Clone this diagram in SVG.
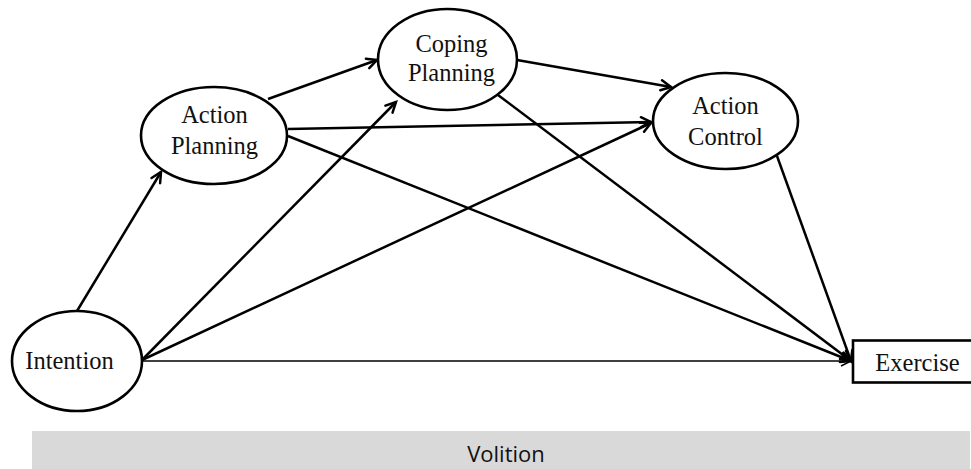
<svg xmlns="http://www.w3.org/2000/svg" width="971" height="469" viewBox="0 0 971 469">
<style>
.node{fill:#fff;stroke:#000;stroke-width:2.6}
.lbl{font-family:"Liberation Serif","Times New Roman",serif;font-size:24.5px;fill:#111;text-anchor:middle}
.edge{stroke:#000;stroke-width:2.5;fill:none;marker-end:url(#arr)}
.thin{stroke:#000;stroke-width:1.3;fill:none;marker-end:url(#arrt)}
</style>
<defs>
<marker id="arr" markerUnits="userSpaceOnUse" viewBox="0 0 14 14" markerWidth="14" markerHeight="14" refX="12" refY="7" orient="auto" overflow="visible">
<path d="M2,2 L12,7 L2,12" fill="none" stroke="#000" stroke-width="2.5" stroke-linecap="round" stroke-linejoin="miter"/>
</marker>
<marker id="arrt" markerUnits="userSpaceOnUse" viewBox="0 0 14 14" markerWidth="14" markerHeight="14" refX="12" refY="7" orient="auto" overflow="visible">
<path d="M2,2 L12,7 L2,12" fill="none" stroke="#000" stroke-width="1.5"/>
</marker>
</defs>
<rect id="volition" x="32" y="431" width="938" height="38" fill="#d9d9d9"/>
<text x="506" y="462" font-family="'Open Sans','Noto Sans',sans-serif" font-size="22" fill="#111" text-anchor="middle">Volition</text>
<g id="connectors">
<line class="edge" x1="77" y1="311" x2="161" y2="172"/>
<line class="edge" x1="268" y1="99" x2="377" y2="60"/>
<line class="edge" x1="288" y1="129" x2="651" y2="122"/>
<line class="edge" x1="288" y1="136" x2="851" y2="361"/>
<line class="edge" x1="517" y1="60" x2="671" y2="87"/>
<line class="edge" x1="498" y1="95" x2="851" y2="361"/>
<line class="edge" x1="777" y1="156" x2="851" y2="361"/>
<line class="edge" x1="142" y1="360" x2="396" y2="102"/>
<line class="edge" x1="142" y1="360" x2="651" y2="123"/>
<line class="thin" x1="142" y1="361" x2="851" y2="361"/>
</g>
<g id="intention">
<ellipse class="node" cx="77" cy="361" rx="65" ry="50"/>
<text class="lbl" x="69.5" y="369">Intention</text>
</g>
<g id="action-planning">
<ellipse class="node" cx="214" cy="135.5" rx="73" ry="48.5"/>
<text class="lbl" x="214.5" y="123">Action</text>
<text class="lbl" x="214.5" y="154">Planning</text>
</g>
<g id="coping-planning">
<ellipse class="node" cx="447.5" cy="59.5" rx="69.5" ry="50.5"/>
<text class="lbl" x="451.5" y="52">Coping</text>
<text class="lbl" x="451.5" y="81">Planning</text>
</g>
<g id="action-control">
<ellipse class="node" cx="725.5" cy="121" rx="72.5" ry="48"/>
<text class="lbl" x="725.5" y="114">Action</text>
<text class="lbl" x="725.5" y="145">Control</text>
</g>
<g id="exercise">
<rect class="node" x="853" y="340.5" width="122" height="42" stroke-width="3"/>
<text class="lbl" x="917.5" y="371">Exercise</text>
</g>
</svg>
